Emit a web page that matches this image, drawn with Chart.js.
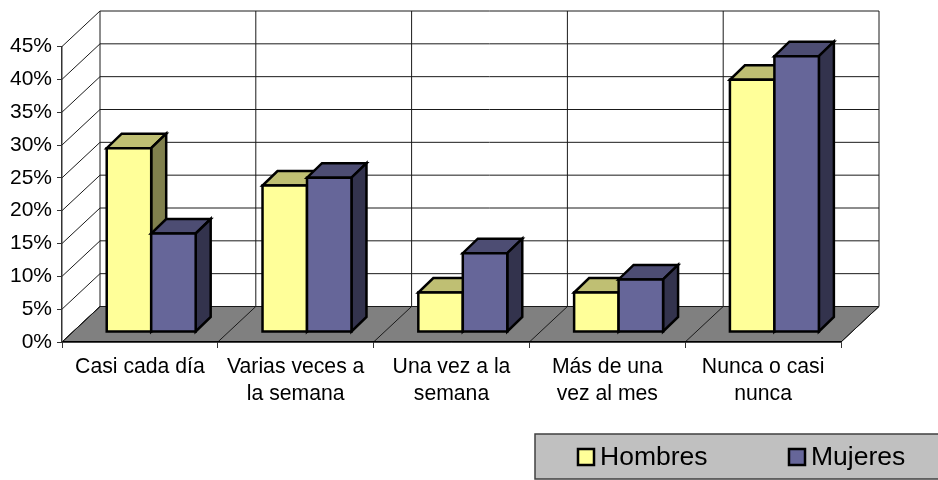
<!DOCTYPE html>
<html>
<head>
<meta charset="utf-8">
<style>
body{margin:0;background:#fff}
canvas{display:block}
</style>
<script src="https://cdn.jsdelivr.net/npm/chart.js@4"></script>
</head>
<body>
<canvas id="mycanvas" width="938" height="480"></canvas>
<script>
var categories=["Casi cada día",["Varias veces a","la semana"],["Una vez a la","semana"],["Más de una","vez al mes"],["Nunca o casi","nunca"]];
var hombres=[28,22.3,6,6,38.4];
var mujeres=[15,23.5,12,8,42];
var seriesNames=["Hombres","Mujeres"];
var seriesColors=["#FFFF99","#666699"];
var seriesTops=["#BFBF73","#4D4D73"];
var seriesSides=["#80804D","#33334D"];
var yMax=45;
var yStep=5;

// depth of the box, and where the bars stand inside it
var wallDx=38,wallDy=-35.5;
var barDx=11.3,barDy=-10;
var depthDx=15,depthDy=-14.5;

function poly(ctx,pts,fill){
	ctx.beginPath();
	ctx.moveTo(pts[0][0],pts[0][1]);
	for(var i=1;i<pts.length;i++){ctx.lineTo(pts[i][0],pts[i][1]);}
	ctx.closePath();
	if(fill){ctx.fillStyle=fill;ctx.fill();}
	ctx.stroke();
}
function line(ctx,x1,y1,x2,y2){
	ctx.beginPath();
	ctx.moveTo(x1,y1);
	ctx.lineTo(x2,y2);
	ctx.stroke();
}

var box3d={
	id:"box3d",
	beforeDraw:function(chart){
		var ctx=chart.ctx,xs=chart.scales.x,ys=chart.scales.y;
		var l=xs.left,r=xs.right,b=ys.bottom;
		ctx.save();
		ctx.strokeStyle="#1a1a1a";
		ctx.lineWidth=1;
		// floor
		poly(ctx,[[l,b],[r,b],[r+wallDx,b+wallDy],[l+wallDx,b+wallDy]],"#808080");
		// walls
		for(var v=0;v<=yMax;v+=yStep){
			var y=ys.getPixelForValue(v);
			line(ctx,l,y,l+wallDx,y+wallDy);
			line(ctx,l+wallDx,y+wallDy,r+wallDx,y+wallDy);
		}
		for(var i=0;i<=categories.length;i++){
			var x=xs.getPixelForValue(i-0.5);
			line(ctx,x+wallDx,ys.top+wallDy,x+wallDx,b+wallDy);
			line(ctx,x,b,x+wallDx,b+wallDy);
		}
		ctx.restore();
	},
	beforeDatasetDraw:function(){
		return false;
	},
	afterDatasetsDraw:function(chart){
		var ctx=chart.ctx;
		ctx.save();
		ctx.strokeStyle="#000";
		ctx.lineWidth=2.5;
		ctx.lineJoin="miter";
		for(var d=0;d<chart.data.datasets.length;d++){
			var bars=chart.getDatasetMeta(d).data;
			for(var i=0;i<bars.length;i++){
				var x1=bars[i].x-bars[i].width/2+barDx;
				var x2=bars[i].x+bars[i].width/2+barDx;
				var top=bars[i].y+barDy;
				var bot=bars[i].base+barDy;
				poly(ctx,[[x1,top],[x2,top],[x2+depthDx,top+depthDy],[x1+depthDx,top+depthDy]],seriesTops[d]);
				poly(ctx,[[x2,top],[x2,bot],[x2+depthDx,bot+depthDy],[x2+depthDx,top+depthDy]],seriesSides[d]);
				poly(ctx,[[x1,top],[x2,top],[x2,bot],[x1,bot]],seriesColors[d]);
			}
		}
		ctx.restore();
	},
	afterDraw:function(chart){
		var ctx=chart.ctx;
		ctx.save();
		ctx.fillStyle="#C0C0C0";
		ctx.strokeStyle="#404040";
		ctx.lineWidth=1.5;
		ctx.fillRect(535,434,403,45);
		ctx.strokeRect(535,434,410,45);
		ctx.font="26.5px 'Liberation Sans'";
		ctx.textBaseline="middle";
		ctx.strokeStyle="#000";
		ctx.lineWidth=2.5;
		var boxX=[578,789];
		for(var i=0;i<seriesNames.length;i++){
			ctx.fillStyle=seriesColors[i];
			ctx.fillRect(boxX[i],449,16,16);
			ctx.strokeRect(boxX[i],449,16,16);
			ctx.fillStyle="#000";
			ctx.fillText(seriesNames[i],boxX[i]+22,458);
		}
		ctx.restore();
	}
};

var chartdata={
	labels:categories,
	datasets:[
	{label:seriesNames[0],backgroundColor:seriesColors[0],data:hombres},
	{label:seriesNames[1],backgroundColor:seriesColors[1],data:mujeres}
	]
};
var ctx=document.getElementById("mycanvas");
var barGraph=new Chart(ctx,{
	type:"bar",
	data:chartdata,
	plugins:[box3d],
	options:{
		responsive:false,
		animation:false,
		layout:{padding:{left:0,right:97,top:46.5,bottom:38}},
		datasets:{bar:{categoryPercentage:0.571,barPercentage:1}},
		plugins:{legend:{display:false},tooltip:{enabled:false}},
		scales:{
			x:{
				afterFit:function(scale){scale.height=100;},
				grid:{drawOnChartArea:false,tickLength:6,color:"#333"},
				border:{color:"#000",width:1.5},
				ticks:{maxRotation:0,minRotation:0,autoSkip:false,padding:6,color:"#000",font:{family:"'Liberation Sans'",size:21.2,lineHeight:1.27}}
			},
			y:{
				min:0,max:yMax,
				afterFit:function(scale){scale.width=62;},
				grid:{drawOnChartArea:false,tickLength:5,color:"#333"},
				border:{color:"#333",width:1.5},
				ticks:{stepSize:yStep,padding:5,color:"#000",font:{family:"'Liberation Sans'",size:21},callback:function(v){return v+"%";}}
			}
		}
	}
});
</script>
</body>
</html>
